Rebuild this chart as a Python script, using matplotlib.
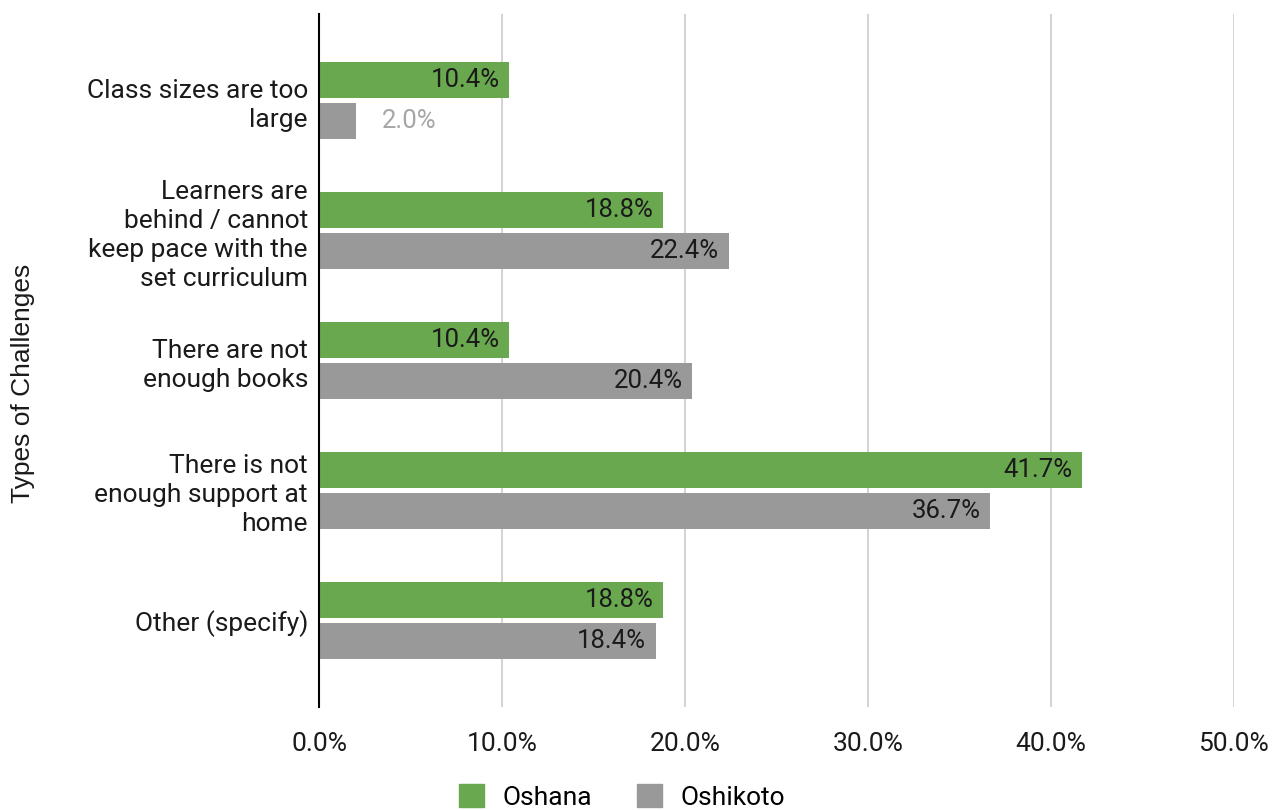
import numpy as np
import matplotlib.pyplot as plt
from matplotlib.patches import Patch

categories = [
    "Class sizes are too\nlarge",
    "Learners are\nbehind / cannot\nkeep pace with the\nset curriculum",
    "There are not\nenough books",
    "There is not\nenough support at\nhome",
    "Other (specify)",
]
oshana = [10.4, 18.8, 10.4, 41.7, 18.8]
oshikoto = [2.0, 22.4, 20.4, 36.7, 18.4]
xticks = [0, 10, 20, 30, 40, 50]

green = "#6aa84f"
grey = "#999999"

plt.rcParams["font.family"] = ["Roboto", "DejaVu Sans"]

fig = plt.figure(figsize=(12.72, 8.1), dpi=100)
ax = fig.add_axes([0.2508, 0.127, 0.7192, 0.856])

y = np.arange(len(categories))
h = 0.277
off = 0.158

b1 = ax.barh(y - off, oshana, height=h, color=green, zorder=3)
b2 = ax.barh(y + off, oshikoto, height=h, color=grey, zorder=3)

for bars, vals in ((b1, oshana), (b2, oshikoto)):
    for bar, v in zip(bars, vals):
        cy = bar.get_y() + bar.get_height() / 2
        if v >= 5:
            ax.annotate(f"{v:.1f}%", (v, cy), xytext=(-7, 0), textcoords="offset points",
                        ha="right", va="center", fontsize=18.5, color="#1a1a1a", zorder=4)
        else:
            ax.annotate(f"{v:.1f}%", (v, cy), xytext=(19, 0), textcoords="offset points",
                        ha="left", va="center", fontsize=18.5, color="#a6a6a6", zorder=4)

ax.set_xlim(0, 50)
ax.set_ylim(len(categories) - 0.33, -0.67)
ax.set_xticks(xticks)
ax.set_xticklabels([f"{t:.1f}%" for t in xticks], fontsize=19, color="#1a1a1a")
ax.set_yticks(y)
ax.set_yticklabels(categories, fontsize=19, color="#1a1a1a", linespacing=1.25)
ax.tick_params(axis="both", length=0)
ax.tick_params(axis="x", pad=18)
ax.tick_params(axis="y", pad=8)
ax.grid(axis="x", color="#cccccc", linewidth=1.2, zorder=0)
for s in ("top", "right", "bottom"):
    ax.spines[s].set_visible(False)
ax.spines["left"].set_color("black")
ax.spines["left"].set_linewidth(1.5)
ax.spines["left"].set_zorder(5)

fig.text(0.018, 0.527, "Types of Challenges", rotation=90, ha="center", va="center",
         fontsize=19, family=["Liberation Sans", "DejaVu Sans"], color="#1a1a1a")

handles = [Patch(color=green, label="Oshana"), Patch(color=grey, label="Oshikoto")]
fig.legend(handles=handles, loc="center", bbox_to_anchor=(0.489, 0.016), ncol=2,
           frameon=False, fontsize=19, handlelength=0.95, handleheight=0.95,
           columnspacing=1.7, handletextpad=0.7, borderpad=0)

fig.savefig("out.png", dpi=100)
